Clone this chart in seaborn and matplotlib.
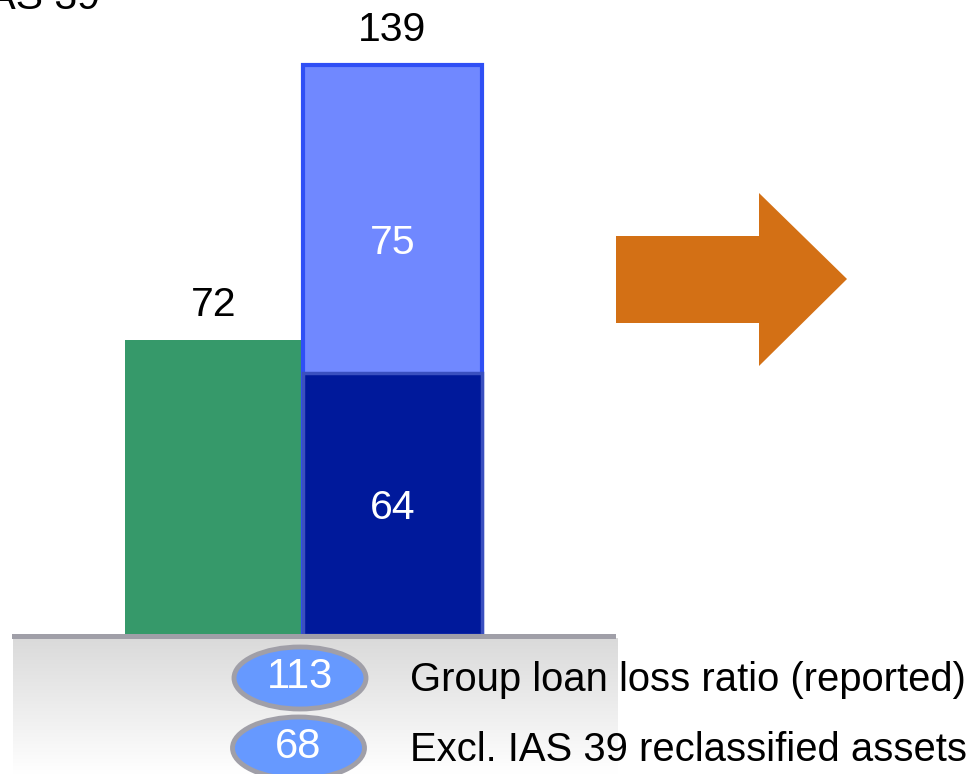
import numpy as np
import pandas as pd
import matplotlib
matplotlib.use("Agg")
import matplotlib.pyplot as plt
import seaborn as sns
from matplotlib.patches import Polygon, Ellipse, Rectangle

# ---- data ----
categories = ["Reported", "Split"]
totals = [72, 139]
bottom_part = [None, 64]
top_part = [None, 75]
ratio_values = ["113", "68"]
ratio_labels = ["Group loan loss ratio (reported)", "Excl. IAS 39 reclassified assets"]
title_fragment = "IAS 39"

sns.set_theme(style="white")
plt.rcParams['font.family'] = ['Liberation Sans', 'DejaVu Sans']

W, H = 976, 774
fig = plt.figure(figsize=(W / 100, H / 100), dpi=100)
ax = fig.add_axes([0, 0, 1, 1])

# pixel mapping
x0_px, x_scale = 214.0, 178.5
base_px, y_scale = 635.0, 4.1

def set_lims():
    ax.set_xlim((0 - x0_px) / x_scale, (W - x0_px) / x_scale)
    ax.set_ylim(-(H - base_px) / y_scale, base_px / y_scale)
    ax.axis("off")

set_lims()

def px2ax(px, py):
    return px / W, 1 - py / H

green = "#36996a"
light = "#7088ff"
light_edge = "#2f4ff5"
dark = "#00199b"

df_tot = pd.DataFrame({"cat": categories, "val": totals})
sns.barplot(data=df_tot, x="cat", y="val", order=categories, hue="cat",
            palette=[green, light], width=1.0, ax=ax, legend=False,
            linewidth=0, saturation=1)
bars = ax.patches
bars[1].set_edgecolor(light_edge)
bars[1].set_linewidth(3)

df_bot = pd.DataFrame({"cat": [categories[1]], "val": [bottom_part[1]]})
sns.barplot(data=df_bot, x="cat", y="val", order=categories, color=dark,
            width=1.0, ax=ax, linewidth=0, saturation=1)
db = ax.patches[-1]
db.set_edgecolor("#3a50c0")
db.set_linewidth(2.5)

set_lims()

fs = 29.5
ax.text(0, totals[0] + 8.5, str(totals[0]), ha="center", va="center", fontsize=fs, color="black")
ax.text(1, totals[1] + 8.5, str(totals[1]), ha="center", va="center", fontsize=fs, color="black")
ax.text(1, bottom_part[1] / 2 - 1, str(bottom_part[1]), ha="center", va="center", fontsize=fs, color="white")
ax.text(1, bottom_part[1] + top_part[1] * 0.42, str(top_part[1]), ha="center", va="center", fontsize=fs, color="white")

# gray band with gradient
bx0, bx1 = 13 / W, 618 / W
by_top, by_bot = 1 - 638 / H, 0.0
grad = np.linspace(0, 1, 256).reshape(-1, 1)
cmap = matplotlib.colors.LinearSegmentedColormap.from_list("g", ["#ffffff", "#dadada"])
ax.imshow(grad, extent=[bx0, bx1, by_bot, by_top], transform=ax.transAxes,
          cmap=cmap, aspect="auto", origin="lower", zorder=0.5)
ax.add_patch(Rectangle(px2ax(12, 639), (616 - 12) / W, 5 / H, transform=ax.transAxes,
                       facecolor="#a09fa8", edgecolor="none", zorder=3))
set_lims()

# arrow
arrow_px = [(616, 236), (759, 236), (759, 193), (847, 279), (759, 366), (759, 323), (616, 323)]
ax.add_patch(Polygon([px2ax(*p) for p in arrow_px], closed=True, transform=ax.transAxes,
                     facecolor="#d37015", edgecolor="none", zorder=3))

# ellipses and labels
for (cx, cy), val, lab in zip([(300, 678), (298.5, 748)], ratio_values, ratio_labels):
    ax.add_patch(Ellipse(px2ax(cx, cy), 132 / W, 62 / H, transform=ax.transAxes,
                         facecolor="#6699ff", edgecolor="#a09fa8", linewidth=3.5, zorder=4))
    ax.text(*px2ax(cx, cy - 1), val, transform=ax.transAxes, ha="center", va="center",
            fontsize=30, color="white", zorder=5)
    ax.text(*px2ax(410, cy + 2), lab, transform=ax.transAxes, ha="left", va="center",
            fontsize=28.8, color="black", zorder=5)

ax.text(*px2ax(100, 9), title_fragment, transform=ax.transAxes, ha="right", va="baseline",
        fontsize=29.5, color="black", zorder=5)

fig.savefig("out.png", dpi=100)
